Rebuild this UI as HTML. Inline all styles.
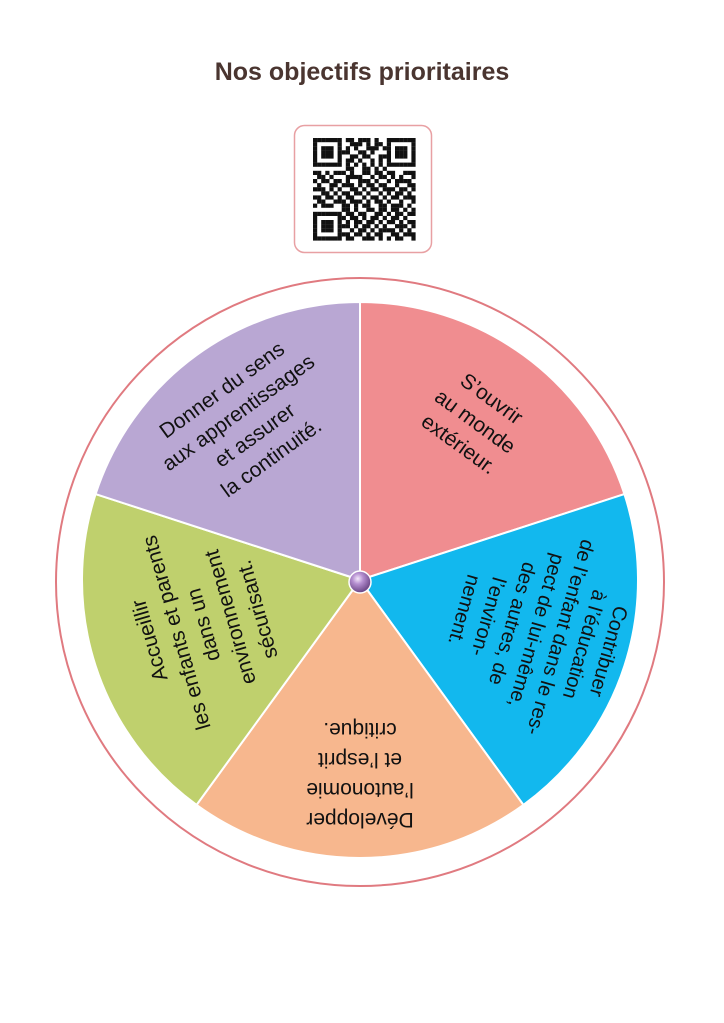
<!DOCTYPE html>
<html><head><meta charset="utf-8"><style>
html,body{margin:0;padding:0;background:#fff;width:724px;height:1023px;overflow:hidden}
svg{display:block}
</style></head><body>
<svg width="724" height="1023" viewBox="0 0 724 1023" xmlns="http://www.w3.org/2000/svg">
<defs>
<radialGradient id="bead" cx="0.4" cy="0.35" r="0.7">
<stop offset="0" stop-color="#f4e8fb"/><stop offset="0.35" stop-color="#b58fd0"/><stop offset="1" stop-color="#5e3a7a"/>
</radialGradient>
</defs>
<text x="362" y="80" text-anchor="middle" font-family="Liberation Sans, sans-serif" font-size="25" font-weight="bold" fill="#4a3530">Nos objectifs prioritaires</text>
<rect x="294.5" y="125.5" width="137" height="127" rx="10" fill="#fff" stroke="#e8a0a3" stroke-width="1.5"/>
<g id="qr" transform="translate(313,138)"></g>
<circle cx="360" cy="582" r="304" fill="none" stroke="#e07a80" stroke-width="2"/>
<g stroke="#fff" stroke-width="2">
<path d="M360,580 L360,302 A278,278 0 0 1 624.4,494.1 Z" fill="#f08d90"/>
<path d="M360,580 L624.4,494.1 A278,278 0 0 1 523.4,804.9 Z" fill="#12b8ee"/>
<path d="M360,580 L523.4,804.9 A278,278 0 0 1 196.6,804.9 Z" fill="#f7b78e"/>
<path d="M360,580 L196.6,804.9 A278,278 0 0 1 95.6,494.1 Z" fill="#bfd06d"/>
<path d="M360,580 L95.6,494.1 A278,278 0 0 1 360,302 Z" fill="#b9a7d3"/>
</g>
<g font-family="Liberation Sans, sans-serif" font-size="21" fill="#111" text-anchor="middle">
<g transform="translate(360,580) rotate(36) translate(0,-195)">
<text y="-22">S’ouvrir</text><text y="6">au monde</text><text y="34">extérieur.</text>
</g>
<g transform="translate(360,580) rotate(106) translate(0,-180)" font-size="20">
<text y="-72">Contribuer</text><text y="-47">à l’éducation</text><text y="-22">de l’enfant dans le res-</text><text y="3">pect de lui-même,</text><text y="28">des autres, de</text><text y="53">l’environ-</text><text y="78">nement.</text>
</g>
<g transform="translate(360,580) rotate(180) translate(0,-195)">
<text y="-38">Développer</text><text y="-8">l’autonomie</text><text y="22">et l’esprit</text><text y="52">critique.</text>
</g>
<g transform="translate(360,580) rotate(-106) translate(0,-162)">
<text y="-50">Accueillir</text><text y="-22">les enfants et parents</text><text y="6">dans un</text><text y="34">environnement</text><text y="62">sécurisant.</text>
</g>
<g transform="translate(360,580) rotate(-36) translate(0,-192)">
<text y="-36">Donner du sens</text><text y="-8">aux apprentissages</text><text y="20">et assurer</text><text y="48">la continuité.</text>
</g>
</g>
<circle cx="360" cy="582" r="11" fill="url(#bead)" stroke="#fff" stroke-width="1.5"/>
</svg>
<script>
var rows=["1111111011011101001111111","1000001001110101101000001","1011101010100111011011101","1011101110011010001011101","1011101001101100111011101","1000001011010010101000001","1111111010101010101111111","0000000011001101010000000","1101011101001101101100111","0110100011110010110101001","1011011010011101001011110","0100110111010110110010011","1110101001101011011101101","0011010110110100101011010","1101101011001011010110111","0110011101110101101001001","1011100110101100110111010","0000000110100110110110101","1111111011011001101011011","1000001101101011010110100","1011101010110110101101011","1011101110101101010011101","1011101001011010111101010","1000001110110101100110111","1111111011001110101011001"];
var g=document.getElementById('qr'),s=4.1,h='';
for(var y=0;y<25;y++)for(var x=0;x<25;x++)if(rows[y][x]=='1')h+='<rect x="'+(x*s).toFixed(1)+'" y="'+(y*s).toFixed(1)+'" width="4.2" height="4.2" fill="#111"/>';
g.innerHTML=h;
</script>
</body></html>
